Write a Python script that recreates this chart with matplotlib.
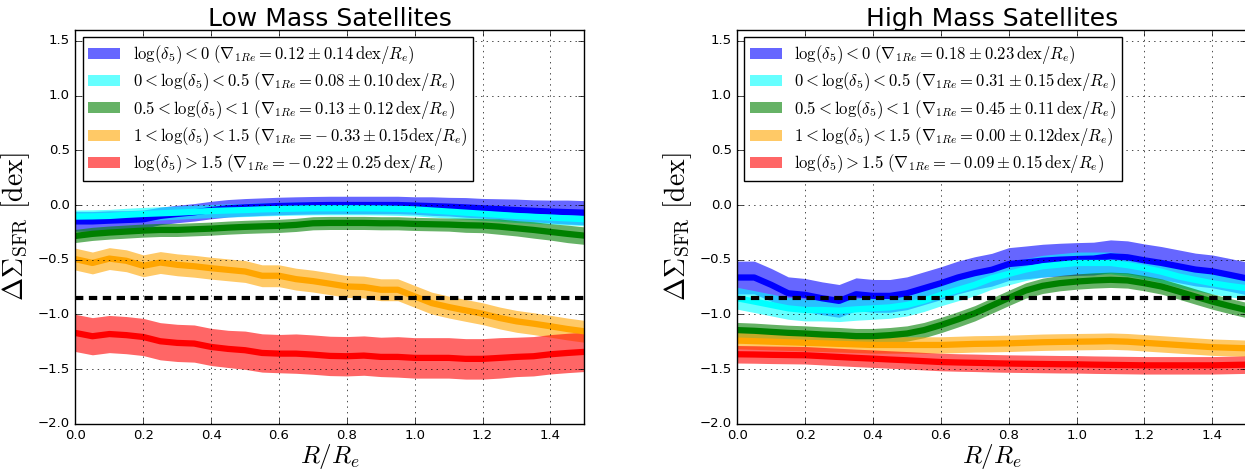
import numpy as np
import matplotlib
matplotlib.use('Agg')
import matplotlib.pyplot as plt
import matplotlib.patches as mpatches

# classic look (inward ticks, dotted grid, cm math)
plt.style.use('classic')
plt.rcParams['figure.facecolor'] = 'white'
plt.rcParams['mathtext.fontset'] = 'cm'
plt.rcParams['lines.scale_dashes'] = False

# radius bins R/Re
radius = np.linspace(0.0, 1.5, 31)

labels_low = [r'$\log(\delta_5)<0\ (\nabla_{1Re}=0.12\pm0.14\,{\rm dex}/R_e)$',
              r'$0<\log(\delta_5)<0.5\ (\nabla_{1Re}=0.08\pm0.10\,{\rm dex}/R_e)$',
              r'$0.5<\log(\delta_5)<1\ (\nabla_{1Re}=0.13\pm0.12\,{\rm dex}/R_e)$',
              r'$1<\log(\delta_5)<1.5\ (\nabla_{1Re}=-\,0.33\pm0.15{\rm dex}/R_e)$',
              r'$\log(\delta_5)>1.5\ (\nabla_{1Re}=-\,0.22\pm0.25\,{\rm dex}/R_e)$']
labels_high = [r'$\log(\delta_5)<0\ (\nabla_{1Re}=0.18\pm0.23\,{\rm dex}/R_e)$',
               r'$0<\log(\delta_5)<0.5\ (\nabla_{1Re}=0.31\pm0.15\,{\rm dex}/R_e)$',
               r'$0.5<\log(\delta_5)<1\ (\nabla_{1Re}=0.45\pm0.11\,{\rm dex}/R_e)$',
               r'$1<\log(\delta_5)<1.5\ (\nabla_{1Re}=0.00\pm0.12{\rm dex}/R_e)$',
               r'$\log(\delta_5)>1.5\ (\nabla_{1Re}=-\,0.09\pm0.15\,{\rm dex}/R_e)$']

#LOW MASS SATELLITES
low_d0 = [-0.15, -0.15, -0.143, -0.137, -0.131, -0.10, -0.082, -0.067, -0.046, -0.03, -0.021,
          -0.015, -0.009, -0.005, -0.002, 0.0, 0.0, 0.0, 0.0, 0.0, -0.005, -0.01, -0.015,
          -0.022, -0.03, -0.038, -0.046, -0.053, -0.06, -0.065, -0.07]
low_d0_err = [0.09, 0.09, 0.09, 0.085, 0.085, 0.08, 0.08, 0.08, 0.08, 0.08, 0.08, 0.08, 0.08,
              0.08, 0.08, 0.08, 0.08, 0.08, 0.08, 0.08, 0.08, 0.085, 0.085, 0.09, 0.09, 0.095,
              0.1, 0.1, 0.105, 0.11, 0.11]
low_d1 = [-0.106, -0.104, -0.1, -0.09, -0.082, -0.076, -0.07, -0.062, -0.055, -0.05, -0.046,
          -0.04, -0.036, -0.033, -0.03, -0.03, -0.03, -0.03, -0.032, -0.035, -0.04, -0.05,
          -0.06, -0.07, -0.08, -0.09, -0.1, -0.108, -0.115, -0.122, -0.13]
low_d1_err = [0.06] * 31
low_d2 = [-0.283, -0.264, -0.252, -0.243, -0.234, -0.228, -0.228, -0.222, -0.216, -0.207, -0.2,
          -0.195, -0.191, -0.182, -0.167, -0.164, -0.164, -0.164, -0.167, -0.167, -0.173,
          -0.176, -0.179, -0.185, -0.188, -0.198, -0.213, -0.228, -0.246, -0.264, -0.28]
low_d2_err = [0.06, 0.06, 0.06, 0.06, 0.06, 0.06, 0.06, 0.06, 0.06, 0.06, 0.06, 0.06, 0.06,
              0.06, 0.06, 0.06, 0.06, 0.06, 0.06, 0.06, 0.06, 0.06, 0.06, 0.065, 0.065, 0.07,
              0.07, 0.075, 0.075, 0.08, 0.08]
low_d3 = [-0.495, -0.53, -0.49, -0.51, -0.556, -0.526, -0.547, -0.56, -0.578, -0.593, -0.608,
          -0.647, -0.647, -0.678, -0.696, -0.72, -0.745, -0.75, -0.775, -0.775, -0.836, -0.897,
          -0.933, -0.964, -0.994, -1.033, -1.064, -1.085, -1.109, -1.134, -1.155]
low_d3_err = [0.1] * 31
low_d4 = [-1.17, -1.20, -1.18, -1.19, -1.207, -1.246, -1.261, -1.267, -1.298, -1.316, -1.328,
          -1.353, -1.359, -1.359, -1.368, -1.38, -1.383, -1.377, -1.389, -1.389, -1.398, -1.398,
          -1.398, -1.407, -1.407, -1.398, -1.389, -1.383, -1.365, -1.353, -1.343]
low_d4_err = [0.17, 0.17, 0.17, 0.17, 0.17, 0.17, 0.17, 0.17, 0.17, 0.17, 0.175, 0.175, 0.175,
              0.18, 0.18, 0.18, 0.18, 0.18, 0.18, 0.185, 0.185, 0.185, 0.185, 0.185, 0.185,
              0.185, 0.18, 0.18, 0.18, 0.18, 0.18]

#HIGH MASS SATELLITES
high_d0 = [-0.663, -0.663, -0.73, -0.807, -0.822, -0.853, -0.877, -0.816, -0.831, -0.831, -0.807,
           -0.761, -0.715, -0.663, -0.623, -0.592, -0.54, -0.525, -0.509, -0.5, -0.494, -0.49,
           -0.469, -0.478, -0.506, -0.53, -0.56, -0.59, -0.607, -0.638, -0.67]
high_d0_err = [0.15] * 31
high_d1 = [-0.853, -0.883, -0.914, -0.945, -0.96, -0.96, -0.966, -0.954, -0.945, -0.936, -0.914,
           -0.874, -0.822, -0.776, -0.73, -0.67, -0.63, -0.59, -0.56, -0.545, -0.53, -0.53,
           -0.53, -0.55, -0.577, -0.61, -0.653, -0.685, -0.715, -0.74, -0.76]
high_d1_err = [0.1] * 31
high_d2 = [-1.144, -1.15, -1.16, -1.169, -1.175, -1.184, -1.19, -1.199, -1.199, -1.19, -1.175,
           -1.144, -1.098, -1.046, -0.99, -0.92, -0.85, -0.782, -0.739, -0.715, -0.7, -0.69,
           -0.684, -0.69, -0.715, -0.745, -0.79, -0.837, -0.883, -0.923, -0.96]
high_d2_err = [0.07] * 31
high_d3 = [-1.24, -1.245, -1.25, -1.255, -1.26, -1.265, -1.27, -1.275, -1.28, -1.28, -1.28,
           -1.28, -1.28, -1.275, -1.27, -1.268, -1.265, -1.26, -1.255, -1.252, -1.25, -1.248,
           -1.245, -1.25, -1.26, -1.27, -1.28, -1.29, -1.3, -1.305, -1.31]
high_d3_err = [0.075] * 31
high_d4 = [-1.365, -1.367, -1.37, -1.372, -1.374, -1.382, -1.39, -1.398, -1.405, -1.413, -1.42,
           -1.428, -1.436, -1.44, -1.443, -1.447, -1.45, -1.452, -1.454, -1.456, -1.457, -1.46,
           -1.462, -1.464, -1.466, -1.466, -1.466, -1.466, -1.466, -1.463, -1.46]
high_d4_err = [0.08] * 31

colours = ['b', 'cyan', 'green', 'orange', 'r']
sfms_line = -0.85

fig = plt.figure(figsize=(12.45, 4.73), dpi=100)
ax1 = fig.add_axes([0.0606, 0.1042, 0.4088, 0.8323])
ax2 = fig.add_axes([0.5922, 0.1042, 0.4088, 0.8323])

panels = [(ax1, 'Low Mass Satellites', [low_d0, low_d1, low_d2, low_d3, low_d4],
           [low_d0_err, low_d1_err, low_d2_err, low_d3_err, low_d4_err], labels_low),
          (ax2, 'High Mass Satellites', [high_d0, high_d1, high_d2, high_d3, high_d4],
           [high_d0_err, high_d1_err, high_d2_err, high_d3_err, high_d4_err], labels_high)]

for ax, title, meds, errs, labs in panels:
    handles = []
    for i in range(len(meds)):
        med = np.array(meds[i])
        err = np.array(errs[i])
        ax.fill_between(radius, med - err, med + err, color=colours[i], alpha=0.6, lw=0)
        handles.append(mpatches.Patch(color=colours[i], alpha=0.6, lw=0, label=labs[i]))
    for i in range(len(meds)):
        ax.plot(radius, meds[i], color=colours[i], lw=4.5, solid_capstyle='butt')
    ax.axhline(sfms_line, color='k', lw=3, linestyle=(0, (6, 4)))
    ax.set_xlim(0.0, 1.5)
    ax.set_ylim(-2.0, 1.6)
    ax.set_xticks([0.0, 0.2, 0.4, 0.6, 0.8, 1.0, 1.2, 1.4])
    ax.set_yticks([-2.0, -1.5, -1.0, -0.5, 0.0, 0.5, 1.0, 1.5])
    ax.tick_params(labelsize=9.5)
    ax.grid(True)
    ax.set_title(title, fontsize=18, pad=3)
    ax.set_xlabel(r'$R/R_e$', fontsize=18, labelpad=0)
    ax.set_ylabel(r'$\Delta\Sigma_{\rm SFR}\ [{\rm dex}]$', fontsize=20, labelpad=4)
    ax.legend(handles=handles, loc='upper left', fontsize=12, handlelength=1.9,
              handleheight=0.66, handletextpad=0.75, labelspacing=0.26,
              borderaxespad=0.43, borderpad=0.35, frameon=True)

fig.savefig('out.png', dpi=100)
